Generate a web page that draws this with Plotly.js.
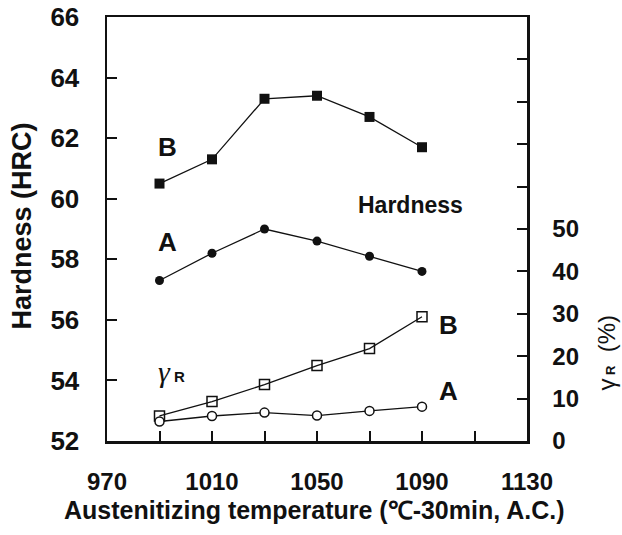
<!DOCTYPE html>
<html>
<head>
<meta charset="utf-8">
<script src="https://cdn.plot.ly/plotly-3.0.1.min.js"></script>
<style>html,body{margin:0;padding:0;background:#fff;}#chart{width:622px;height:535px;}</style>
</head>
<body>
<div id="chart"></div>
<script>
// Data
const temps = [990, 1010, 1030, 1050, 1070, 1090];
const hardnessB = [60.5, 61.3, 63.3, 63.4, 62.7, 61.7];
const hardnessA = [57.3, 58.2, 59.0, 58.6, 58.1, 57.6];
const gammaB = [5.9, 9.3, 13.3, 17.8, 21.8, 29.3];
const gammaA = [4.6, 5.9, 6.7, 6.0, 7.1, 8.1];

const xTickVals = [970, 990, 1010, 1030, 1050, 1070, 1090, 1110, 1130];
const xTickText = ['970', '', '1010', '', '1050', '', '1090', '', '1130'];
const y2TickVals = [0, 10, 20, 30, 40, 50, 60, 70, 80, 90, 100];
const y2TickText = ['0', '10', '20', '30', '40', '50', '', '', '', '', ''];

const FONT = 'Liberation Sans, Arial, Helvetica, sans-serif';
const lineStyle = {color: '#111', width: 1.3};
const bold = arr => arr.map(t => t ? '<b>' + t + '</b>' : '');

const traces = [
  {x: temps, y: hardnessB, mode: 'lines+markers', line: lineStyle,
   marker: {symbol: 'square', size: 10, color: '#111'}, yaxis: 'y', showlegend: false},
  {x: temps, y: hardnessA, mode: 'lines+markers', line: lineStyle,
   marker: {symbol: 'circle', size: 9, color: '#111'}, yaxis: 'y', showlegend: false},
  {x: temps, y: gammaB, mode: 'lines+markers', line: lineStyle,
   marker: {symbol: 'square-open', size: 10, color: '#111', line: {width: 1.5}}, yaxis: 'y2', showlegend: false},
  {x: temps, y: gammaA, mode: 'lines+markers', line: lineStyle,
   marker: {symbol: 'circle', size: 9, color: '#fff', line: {width: 1.5, color: '#111'}}, yaxis: 'y2', showlegend: false}
];

const ann = (x, y, text, size, extra) => Object.assign({
  xref: 'x', yref: 'y', x: x, y: y, text: text, showarrow: false,
  xanchor: 'center', yanchor: 'middle',
  font: {family: FONT, size: size, color: '#111'}
}, extra || {});

const layout = {
  width: 622, height: 535,
  margin: {l: 107, r: 95, t: 17, b: 94},
  paper_bgcolor: '#fff', plot_bgcolor: '#fff',
  font: {family: FONT, color: '#111'},
  xaxis: {
    range: [970, 1130], tickvals: xTickVals, ticktext: bold(xTickText),
    ticks: 'inside', ticklen: 10, tickwidth: 2, tickcolor: '#111',
    showline: true, linewidth: 2.5, linecolor: '#111', mirror: true,
    showgrid: false, zeroline: false,
    tickfont: {family: FONT, size: 24, color: '#111', weight: 'bold'},
    ticklabelstandoff: 18
  },
  yaxis: {
    range: [52, 66], dtick: 2, tick0: 52,
    ticks: 'inside', ticklen: 10, tickwidth: 2, tickcolor: '#111',
    showline: true, linewidth: 2.5, linecolor: '#111',
    showgrid: false, zeroline: false,
    tickfont: {family: FONT, size: 26, color: '#111', weight: 'bold'},
    ticklabelstandoff: 20
  },
  yaxis2: {
    overlaying: 'y', side: 'right', range: [0, 100],
    tickvals: y2TickVals, ticktext: bold(y2TickText),
    ticks: 'inside', ticklen: 10, tickwidth: 2, tickcolor: '#111',
    showline: true, linewidth: 2.5, linecolor: '#111',
    showgrid: false, zeroline: false,
    tickfont: {family: FONT, size: 24, color: '#111', weight: 'bold'},
    ticklabelstandoff: 18
  },
  annotations: [
    ann(993.2, 61.7, '<b>B</b>', 26),
    ann(993.2, 58.57, '<b>A</b>', 26),
    ann(1085.8, 59.8, '<b>Hardness</b>', 23),
    ann(1100, 27.4, '<b>B</b>', 26, {yref: 'y2'}),
    ann(1100, 11.8, '<b>A</b>', 26, {yref: 'y2'}),
    ann(994.5, 16.3, "<span style='font-family:Liberation Serif;font-style:italic;font-size:30px'>γ</span> <b><span style='font-size:15px'>R</span></b>", 15, {yref: 'y2'}),
    {xref: 'paper', yref: 'paper', x: -0.202, y: 0.506, xanchor: 'center', yanchor: 'middle',
     text: '<b>Hardness (HRC)</b>', textangle: -90,
     showarrow: false, font: {family: FONT, size: 27, color: '#111'}},
    {xref: 'paper', yref: 'paper', x: 1.19, y: 0.208, xanchor: 'center', yanchor: 'middle',
     text: "γ<span style='font-size:13px'><b> R</b></span>  (%)", textangle: -90,
     showarrow: false, font: {family: FONT, size: 24, color: '#111'}},
    {xref: 'paper', yref: 'paper', x: 0.493, y: -0.163, xanchor: 'center', yanchor: 'middle',
     text: '<b>Austenitizing temperature (℃-30min, A.C.)</b>',
     showarrow: false, font: {family: FONT, size: 25, color: '#111'}}
  ]
};

Plotly.newPlot('chart', traces, layout, {displayModeBar: false, staticPlot: true});
</script>
</body>
</html>
